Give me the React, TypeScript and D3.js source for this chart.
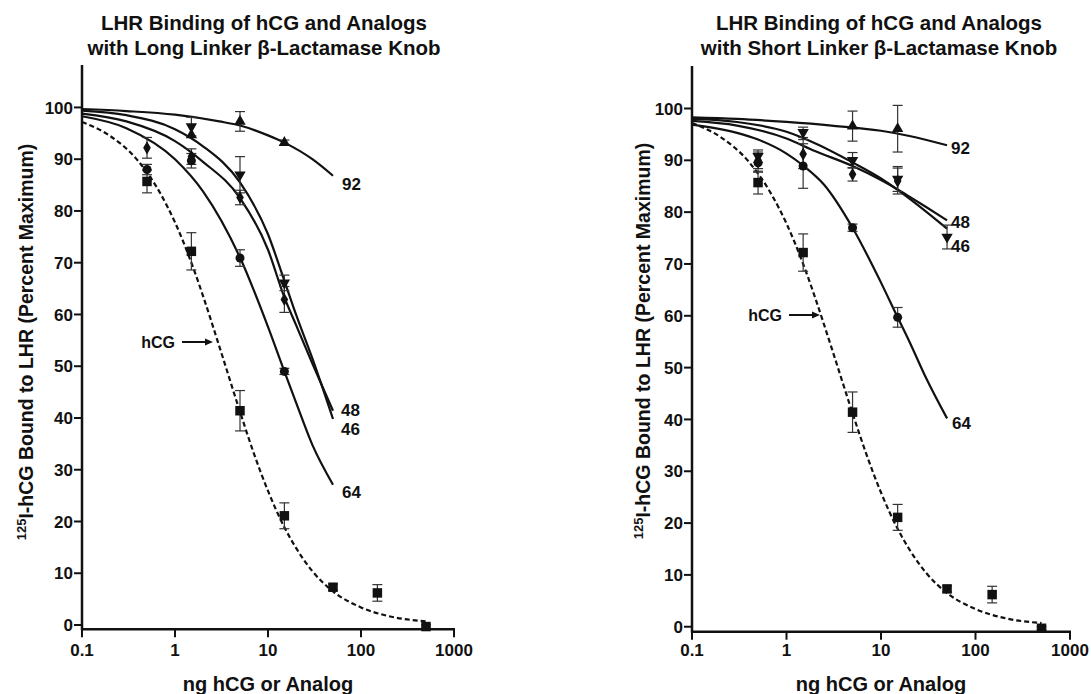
import React from "react";
import * as d3 from "d3";

// ---------- DATA ----------
const xTicks = [0.1, 1, 10, 100, 1000];
const xTickLabels = ["0.1", "1", "10", "100", "1000"];
const yTicks = [0, 10, 20, 30, 40, 50, 60, 70, 80, 90, 100];

const titleLeft = ["LHR Binding of hCG and Analogs", "with Long Linker \u03B2-Lactamase Knob"];
const titleRight = ["LHR Binding of hCG and Analogs", "with Short Linker \u03B2-Lactamase Knob"];
const xAxisTitle = "ng hCG or Analog";
const yAxisSup = "125";
const yAxisTitle = "I-hCG Bound to LHR (Percent Maximum)";

// hCG (same in both panels)
const hcgX = [0.5, 1.5, 5, 15, 50, 150, 500];
const hcgY = [85.7, 72.2, 41.4, 21.1, 7.3, 6.2, -0.3];
const hcgErr = [2.2, 3.6, 3.9, 2.5, 0.6, 1.6, 0.3];
const hcgCurveX = [0.1, 0.2, 0.4, 0.7, 1, 1.5, 2, 3, 5, 7, 10, 15, 20, 30, 50, 100, 200, 500];
const hcgCurveY = [97.2, 94.5, 89.7, 83.3, 77.8, 70, 63.6, 53.8, 41.2, 33.3, 25.9, 18.9, 14.9, 10.4, 6.5, 3.4, 1.7, 0.7];

// Left panel (long linker)
const l92X = [1.5, 5, 15];
const l92Y = [94.7, 97.3, 93.2];
const l92Err = [0, 1.9, 0.5];
const l92CurveX = [0.1, 0.3, 1, 3, 5, 10, 15, 30, 50];
const l92CurveY = [99.7, 99.3, 98.6, 97.3, 96.5, 94.6, 93.2, 90, 86.8];

const l46X = [1.5, 5, 15];
const l46Y = [96.3, 87, 66.1];
const l46Err = [1.8, 3.5, 1.5];
const l46CurveX = [0.1, 0.3, 1, 2, 5, 10, 15, 20, 30, 50];
const l46CurveY = [99.4, 98.5, 95.8, 92.5, 85.5, 75.5, 66.5, 60, 51.5, 39.8];

const l48X = [0.5, 1.5, 5, 15];
const l48Y = [92.2, 90.5, 82.6, 62.9];
const l48Err = [2.0, 1.5, 1.4, 2.5];
const l48CurveX = [0.1, 0.3, 1, 2, 5, 10, 15, 20, 30, 50];
const l48CurveY = [98.8, 97.3, 93.5, 89.5, 82.5, 72.5, 63.3, 58, 50.5, 41.4];

const l64X = [0.5, 1.5, 5, 15];
const l64Y = [88.0, 89.7, 70.9, 49.0];
const l64Err = [1.0, 1.4, 1.6, 0.6];
const l64CurveX = [0.1, 0.3, 1, 2, 5, 10, 15, 20, 30, 50];
const l64CurveY = [98.3, 96, 90, 83.8, 71, 57.6, 49, 43, 34.8, 27.1];

// Right panel (short linker)
const r92X = [5, 15];
const r92Y = [96.6, 96.1];
const r92Err = [2.9, 4.5];
const r92CurveX = [0.1, 0.3, 1, 3, 10, 20, 50];
const r92CurveY = [98.3, 98.0, 97.4, 96.7, 95.7, 94.7, 92.9];

const r46X = [0.5, 1.5, 5, 15, 50];
const r46Y = [90.8, 95.4, 90.0, 86.4, 75.2];
const r46Err = [1.2, 1.0, 1.5, 2.4, 2.3];
const r46CurveX = [0.1, 0.3, 1, 2, 5, 10, 15, 20, 30, 50];
const r46CurveY = [98.0, 97.4, 95.5, 93.3, 89.6, 86.5, 84.3, 82.6, 80.1, 76.8];

const r48X = [0.5, 1.5, 5, 15];
const r48Y = [90.0, 91.2, 87.3, 86.0];
const r48Err = [1.6, 2.8, 1.3, 2.5];
const r48CurveX = [0.1, 0.3, 1, 2, 5, 10, 15, 20, 30, 50];
const r48CurveY = [97.6, 96.7, 94.2, 91.8, 88.9, 86.2, 84.4, 83, 81, 78.4];

const r64X = [0.5, 1.5, 5, 15];
const r64Y = [89.5, 88.9, 77.0, 59.7];
const r64Err = [1.8, 4.3, 0.7, 1.9];
const r64CurveX = [0.1, 0.3, 0.5, 1, 1.5, 2.5, 5, 10, 15, 20, 30, 50];
const r64CurveY = [96.9, 95.3, 94, 91.3, 89, 85.3, 77, 66.4, 59.7, 55, 48, 40.2];

const seriesLabels = ["92", "48", "46", "64"];
const hcgLabel = "hCG";

// ---------- DRAWING ----------
const FONT = "'Liberation Sans', Arial, Helvetica, sans-serif";

type Series = {
  px: number[]; py: number[]; pe: number[];
  cx: number[]; cy: number[];
  shape: string; dashed?: boolean;
};

function zip(xs: number[], ys: number[]) {
  return xs.map((x, i) => [x, ys[i]] as [number, number]);
}

function symbolPath(shape: string) {
  if (shape === "square") return d3.symbol(d3.symbolSquare, 90)()!;
  if (shape === "circle") return d3.symbol(d3.symbolCircle, 64)()!;
  if (shape === "diamond") return d3.symbol(d3.symbolDiamond, 50)()!;
  return d3.symbol(d3.symbolTriangle, 56)()!;
}

function Panel(props: {
  x0: number; x1: number; yTop: number; yBottom: number; yMin: number; yMax: number;
  title: string[]; titleX: number;
  series: Series[];
  labels: { text: string; x: number; y: number }[];
  hcg: { textRight: number; y: number; arrowEnd: number };
  yTitleX: number; yTitleY: number;
}) {
  const x = d3.scaleLog().domain([0.1, 1000]).range([props.x0, props.x1]);
  const y = d3.scaleLinear().domain([props.yMin, props.yMax]).range([props.yBottom, props.yTop]);
  const line = d3
    .line<[number, number]>()
    .x((d) => x(d[0]))
    .y((d) => y(d[1]))
    .curve(d3.curveMonotoneX);
  const axisY = props.yBottom;
  const cx = (props.x0 + props.x1) / 2;

  return (
    <g fontFamily={FONT} fontWeight="bold" fill="#111">
      {props.title.map((t, i) => (
        <text key={i} x={props.titleX} y={30 + i * 25} textAnchor="middle" fontSize={20.5}>
          {t}
        </text>
      ))}
      {/* axes */}
      <line x1={props.x0} x2={props.x0} y1={props.yTop} y2={axisY + 1} stroke="#111" strokeWidth={2.5} />
      <line x1={props.x0 - 1} x2={props.x1 + 1} y1={axisY} y2={axisY} stroke="#111" strokeWidth={2.5} />
      {yTicks.map((t) => (
        <g key={t}>
          <line x1={props.x0 - 8} x2={props.x0} y1={y(t)} y2={y(t)} stroke="#111" strokeWidth={2} />
          <text x={props.x0 - 9} y={y(t)} dy="0.36em" textAnchor="end" fontSize={17}>
            {t}
          </text>
        </g>
      ))}
      {xTicks.map((t, i) => (
        <g key={t}>
          <line x1={x(t)} x2={x(t)} y1={axisY} y2={axisY + 8} stroke="#111" strokeWidth={2} />
          <text x={x(t)} y={656} textAnchor="middle" fontSize={17}>
            {xTickLabels[i]}
          </text>
        </g>
      ))}
      <text x={cx} y={691} textAnchor="middle" fontSize={20}>
        {xAxisTitle}
      </text>
      <text transform={`translate(${props.yTitleX},${props.yTitleY}) rotate(-90)`} textAnchor="middle" fontSize={19.5}>
        <tspan fontSize={13} dy={-7}>{yAxisSup}</tspan>
        <tspan dy={7}>{yAxisTitle}</tspan>
      </text>
      {/* curves */}
      {props.series.map((s, i) => (
        <path
          key={"c" + i}
          d={line(zip(s.cx, s.cy)) || ""}
          fill="none"
          stroke="#111"
          strokeWidth={2.2}
          strokeDasharray={s.dashed ? "5,3" : undefined}
        />
      ))}
      {/* error bars */}
      {props.series.map((s, i) =>
        s.px.map((px, j) =>
          s.pe[j] > 0 ? (
            <g key={"e" + i + "-" + j} stroke="#333" strokeWidth={1.2}>
              <line x1={x(px)} x2={x(px)} y1={y(s.py[j] - s.pe[j])} y2={y(s.py[j] + s.pe[j])} />
              <line x1={x(px) - 5} x2={x(px) + 5} y1={y(s.py[j] - s.pe[j])} y2={y(s.py[j] - s.pe[j])} />
              <line x1={x(px) - 5} x2={x(px) + 5} y1={y(s.py[j] + s.pe[j])} y2={y(s.py[j] + s.pe[j])} />
            </g>
          ) : null
        )
      )}
      {/* markers */}
      {props.series.map((s, i) =>
        s.px.map((px, j) => (
          <path
            key={"m" + i + "-" + j}
            d={symbolPath(s.shape)}
            transform={`translate(${x(px)},${y(s.py[j])})${s.shape === "down" ? " rotate(180)" : ""}`}
            fill="#111"
          />
        ))
      )}
      {props.labels.map((l) => (
        <text key={l.text} x={l.x} y={l.y} dy="0.36em" fontSize={17}>
          {l.text}
        </text>
      ))}
      <text x={props.hcg.textRight} y={props.hcg.y} dy="0.36em" textAnchor="end" fontSize={16}>
        {hcgLabel}
      </text>
      <line
        x1={props.hcg.textRight + 7}
        x2={props.hcg.arrowEnd - 6}
        y1={props.hcg.y}
        y2={props.hcg.y}
        stroke="#111"
        strokeWidth={2}
      />
      <path
        d={`M${props.hcg.arrowEnd},${props.hcg.y} l-8,-3.5 l0,7 z`}
        fill="#111"
      />
    </g>
  );
}

export default function App() {
  const hcgSeries: Series = { px: hcgX, py: hcgY, pe: hcgErr, cx: hcgCurveX, cy: hcgCurveY, shape: "square", dashed: true };
  const leftSeries: Series[] = [
    hcgSeries,
    { px: l92X, py: l92Y, pe: l92Err, cx: l92CurveX, cy: l92CurveY, shape: "up" },
    { px: l46X, py: l46Y, pe: l46Err, cx: l46CurveX, cy: l46CurveY, shape: "down" },
    { px: l48X, py: l48Y, pe: l48Err, cx: l48CurveX, cy: l48CurveY, shape: "diamond" },
    { px: l64X, py: l64Y, pe: l64Err, cx: l64CurveX, cy: l64CurveY, shape: "circle" },
  ];
  const rightSeries: Series[] = [
    hcgSeries,
    { px: r92X, py: r92Y, pe: r92Err, cx: r92CurveX, cy: r92CurveY, shape: "up" },
    { px: r46X, py: r46Y, pe: r46Err, cx: r46CurveX, cy: r46CurveY, shape: "down" },
    { px: r48X, py: r48Y, pe: r48Err, cx: r48CurveX, cy: r48CurveY, shape: "diamond" },
    { px: r64X, py: r64Y, pe: r64Err, cx: r64CurveX, cy: r64CurveY, shape: "circle" },
  ];
  return (
    <svg
      width={1091}
      height={694}
      style={{ position: "absolute", left: 0, top: 0, background: "#fff" }}
    >
      <rect width={1091} height={694} fill="#fff" />
      <Panel
        x0={82} x1={454} yTop={65} yBottom={629.3} yMin={-0.83} yMax={108.2}
        title={titleLeft} titleX={264}
        series={leftSeries}
        labels={[
          { text: seriesLabels[0], x: 342, y: 184 },
          { text: seriesLabels[1], x: 341, y: 410 },
          { text: seriesLabels[2], x: 341, y: 429 },
          { text: seriesLabels[3], x: 342, y: 492 },
        ]}
        hcg={{ textRight: 175, y: 342, arrowEnd: 213 }}
        yTitleX={33} yTitleY={342}
      />
      <Panel
        x0={692} x1={1070} yTop={66} yBottom={631.7} yMin={-0.96} yMax={108.2}
        title={titleRight} titleX={879}
        series={rightSeries}
        labels={[
          { text: seriesLabels[0], x: 951, y: 148 },
          { text: seriesLabels[1], x: 951, y: 222 },
          { text: seriesLabels[2], x: 951, y: 246 },
          { text: seriesLabels[3], x: 952, y: 423 },
        ]}
        hcg={{ textRight: 782, y: 315, arrowEnd: 820 }}
        yTitleX={650} yTitleY={341}
      />
    </svg>
  );
}
